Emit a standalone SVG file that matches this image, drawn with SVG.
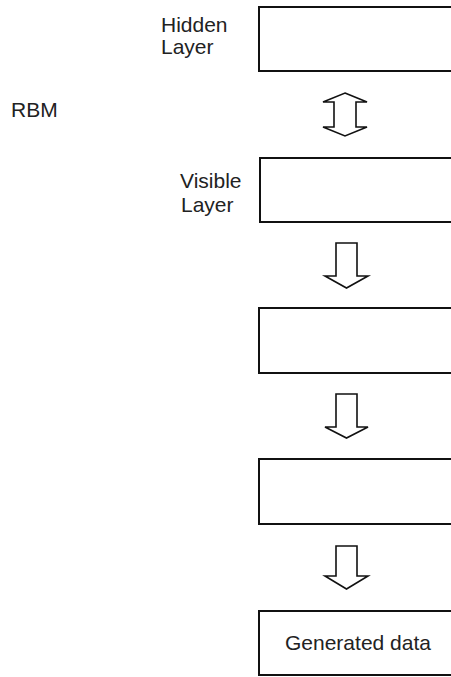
<svg xmlns="http://www.w3.org/2000/svg" width="451" height="677" viewBox="0 0 451 677">
<style>
.box{fill:#fff;stroke:#111;stroke-width:2}
.arr{fill:#fff;stroke:#111;stroke-width:1.6;stroke-linejoin:miter}
text{font-family:"Liberation Sans",Arial,sans-serif;font-size:21px;fill:#222}
</style>
<rect width="451" height="677" fill="#fff"/>
<text x="11" y="117">RBM</text>
<g id="hidden">
<rect class="box" x="259" y="7" width="200" height="64"/>
<text x="161" y="32">Hidden</text>
<text x="161" y="54">Layer</text>
</g>
<g id="visible">
<rect class="box" x="260" y="158" width="200" height="64"/>
<text x="180" y="188">Visible</text>
<text x="181" y="212">Layer</text>
</g>
<g id="layer3">
<rect class="box" x="259" y="308" width="200" height="65"/>
</g>
<g id="layer4">
<rect class="box" x="259" y="459" width="200" height="65"/>
</g>
<g id="generated">
<rect class="box" x="259" y="611" width="200" height="64"/>
<text x="285" y="650">Generated data</text>
</g>
<g id="connectors">
<path class="arr" d="M345,93 L367,102 L356,102 L356,127 L367,127 L345,136 L323,127 L334,127 L334,102 L323,102 Z"/>
<path class="arr" d="M336,243 L357,243 L357,276 L368,276 L346.5,288 L325,276 L336,276 Z"/>
<path class="arr" d="M336,394 L357,394 L357,427 L368,427 L346.5,438 L325,427 L336,427 Z"/>
<path class="arr" d="M336,546 L357,546 L357,576 L368,576 L346.5,589 L325,576 L336,576 Z"/>
</g>
</svg>
